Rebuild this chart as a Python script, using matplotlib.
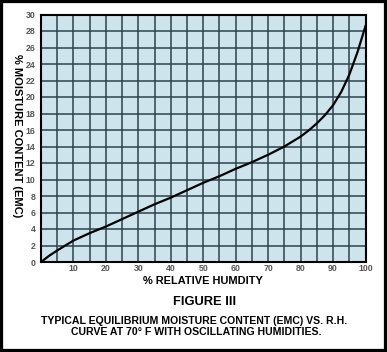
import matplotlib
matplotlib.use("Agg")
import matplotlib.pyplot as plt
from matplotlib.patches import Rectangle

plt.rcParams['font.family'] = ['Liberation Sans', 'DejaVu Sans']

# Valores (% UR -> % EMC)
rh = [0, 2.5, 5, 10, 15, 20, 25, 30, 35, 40, 45, 50, 55, 60, 65, 70,
      75, 77.5, 80, 82.5, 85, 87.5, 90, 92.5, 95, 97.5, 100]
emc = [0, 0.75, 1.4, 2.6, 3.5, 4.3, 5.2, 6.1, 7.0, 7.8, 8.7, 9.6, 10.4,
       11.3, 12.1, 13.0, 14.0, 14.6, 15.2, 15.95, 16.8, 17.8, 19.0, 20.6,
       22.7, 25.4, 28.6]

x_ticks = [10, 20, 30, 40, 50, 60, 70, 80, 90, 100]
y_ticks = list(range(0, 31, 2))

W, H = 387, 352
fig = plt.figure(figsize=(W / 100, H / 100), dpi=100)
fig.patch.set_facecolor('white')

ax = fig.add_axes([41 / W, 1 - 262 / H, (365.5 - 41) / W, (262 - 14.5) / H])
ax.set_facecolor('#cde4ec')

# Grade
for xv in range(5, 100, 5):
    ax.axvline(xv, color='#2b434d', lw=1.1, zorder=1)
for yv in range(2, 30, 2):
    ax.axhline(yv, color='#2b434d', lw=1.1, zorder=1)

ax.plot(rh, emc, color='black', lw=1.6, zorder=3)

ax.set_xlim(0, 100)
ax.set_ylim(0, 30)
ax.set_xticks(x_ticks)
ax.set_yticks(y_ticks)
ax.tick_params(length=0, labelsize=6.3, labelcolor='#555555')
ax.tick_params(axis='x', pad=1.5)
ax.tick_params(axis='y', pad=4)
for lab in ax.get_xticklabels() + ax.get_yticklabels():
    lab.set_fontweight('bold')
for s in ax.spines.values():
    s.set_linewidth(1.5)
    s.set_color('black')

# Textos
fig.text(16.5 / W, 1 - 136 / H, '% MOISTURE CONTENT (EMC)', rotation=270,
         ha='center', va='center', fontsize=8.0, fontweight='bold')
fig.text(203 / W, 1 - 281 / H, '% RELATIVE HUMDITY', ha='center',
         va='center', fontsize=7.9, fontweight='bold')
fig.text(205 / W, 1 - 302 / H, 'FIGURE III', ha='center', va='center',
         fontsize=9.3, fontweight='bold')
fig.text(194 / W, 1 - 321 / H,
         'TYPICAL EQUILIBRIUM MOISTURE CONTENT (EMC) VS. R.H.',
         ha='center', va='center', fontsize=7.6, fontweight='bold')
fig.text(196 / W, 1 - 332 / H,
         'CURVE AT 70\u00b0 F WITH OSCILLATING HUMIDITIES.',
         ha='center', va='center', fontsize=7.6, fontweight='bold')

# Moldura preta
fig.patches.append(Rectangle((0, 0), 1, 1, transform=fig.transFigure,
                             fill=False, edgecolor='black', lw=4.5))

fig.savefig('out.png', dpi=100)
